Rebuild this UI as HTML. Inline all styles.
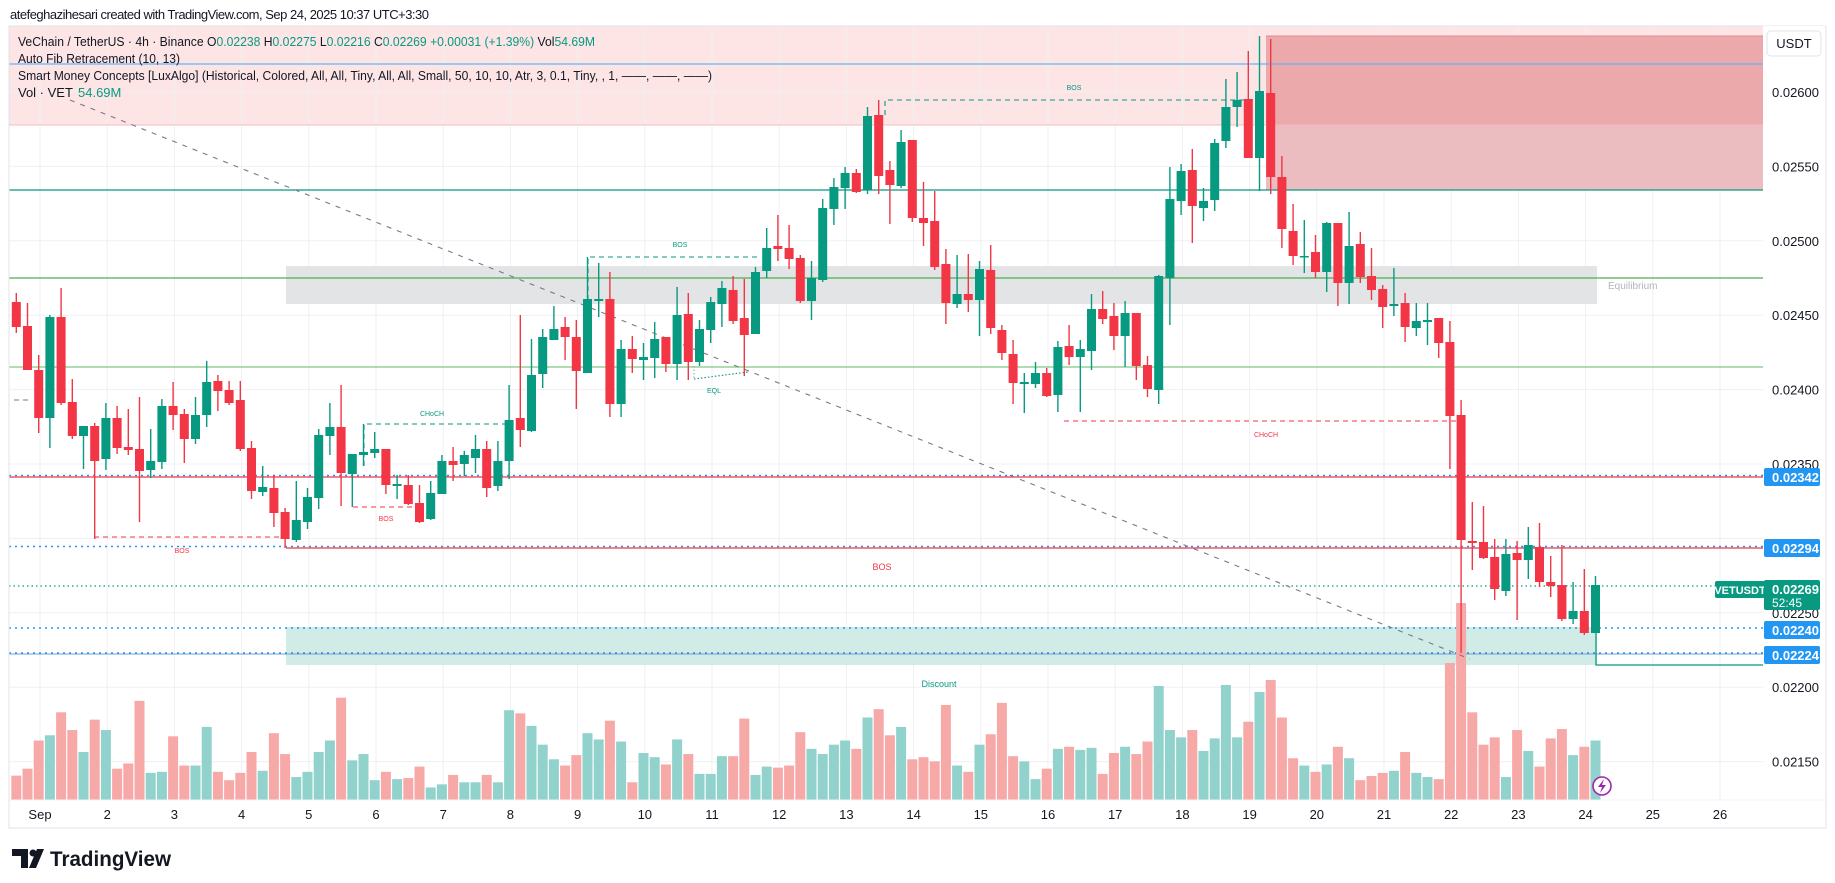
<!DOCTYPE html>
<html><head><meta charset="utf-8"><style>
html,body{margin:0;padding:0;background:#fff;width:1835px;height:883px;overflow:hidden}
svg{display:block}
text{font-family:"Liberation Sans",sans-serif}
</style></head><body>
<svg id="s" width="1835" height="883" viewBox="0 0 1835 883" xmlns="http://www.w3.org/2000/svg">
<rect x="0" y="0" width="1835" height="883" fill="#fff"/>
<text x="10" y="19" font-size="13" fill="#131722" textLength="419">atefeghazihesari created with TradingView.com, Sep 24, 2025 10:37 UTC+3:30</text>
<g id="bg"></g>
<g id="vol"></g>
<g id="ov"></g>
<g id="cd"></g>
<g id="lb"></g>
</svg>
<script>
const NS="http://www.w3.org/2000/svg";
function el(g,tag,attrs,txt){const e=document.createElementNS(NS,tag);for(const k in attrs)e.setAttribute(k,attrs[k]);if(txt!==undefined)e.textContent=txt;document.getElementById(g).appendChild(e);return e;}
const L=9,R=1763,T=26,B=800;
const py=p=>92+(0.026-p)*148800;
// backgrounds
el('bg','rect',{x:L,y:T,width:R-L,height:125-T,fill:'#fde4e5'});
// grid
for(let d=1;d<=26;d++){const x=1585.6-(24-d)*67.2;if(x>L&&x<R)el('bg','line',{x1:x,y1:T,x2:x,y2:B,stroke:'#eef0f4','stroke-width':1});}
[0.026,0.0255,0.025,0.0245,0.024,0.0235,0.023,0.0225,0.022,0.0215].forEach(p=>{const y=py(p);el('bg','line',{x1:L,y1:y,x2:R,y2:y,stroke:'#eef0f4','stroke-width':1});});
// order block
el('bg','rect',{x:1266,y:36,width:R-1266,height:89,fill:'#eba9ac'});
el('bg','rect',{x:1266,y:125,width:R-1266,height:65,fill:'#ebbdc0'});
el('bg','line',{x1:1266,y1:36,x2:R,y2:36,stroke:'#e08c90','stroke-width':1});
el('bg','line',{x1:L,y1:125,x2:R,y2:125,stroke:'#f2bcc0','stroke-width':1});
// equilibrium & discount boxes
el('bg','rect',{x:286,y:266,width:1597-286,height:38,fill:'#e3e4e6'});
el('bg','rect',{x:286,y:627,width:1597-286,height:38,fill:'#d1ebe6'});
// horizontal lines
el('bg','line',{x1:L,y1:64,x2:R,y2:64,stroke:'#64b5f6','stroke-width':1.3});
el('bg','line',{x1:L,y1:190,x2:R,y2:190,stroke:'#089981','stroke-width':1.3});
el('bg','line',{x1:L,y1:278,x2:R,y2:278,stroke:'#4caf50','stroke-width':1.3});
el('bg','line',{x1:L,y1:367,x2:R,y2:367,stroke:'#81c784','stroke-width':1.3});
el('bg','line',{x1:L,y1:477,x2:R,y2:477,stroke:'#f23645','stroke-width':1.3});
el('bg','line',{x1:L,y1:475.5,x2:R,y2:475.5,stroke:'#2196f3','stroke-width':1.6,'stroke-dasharray':'2 4'});
el('bg','line',{x1:286,y1:548,x2:R,y2:548,stroke:'#f23645','stroke-width':1.3});
el('bg','line',{x1:L,y1:546.5,x2:R,y2:546.5,stroke:'#2196f3','stroke-width':1.6,'stroke-dasharray':'2 4'});
el('bg','line',{x1:L,y1:586,x2:R,y2:586,stroke:'#089981','stroke-width':1.2,'stroke-dasharray':'1.5 3'});
el('bg','line',{x1:L,y1:628,x2:R,y2:628,stroke:'#2196f3','stroke-width':1.6,'stroke-dasharray':'2 4'});
el('bg','line',{x1:L,y1:654,x2:R,y2:654,stroke:'#7a9ec8','stroke-width':1});
el('bg','line',{x1:L,y1:653,x2:R,y2:653,stroke:'#2196f3','stroke-width':1.6,'stroke-dasharray':'2 4'});
// candles data [o,c,h,l] in px
const C=[[302,327,293,333],[326,370,303,370],[370,418,355,433],[418,317,315,448],[317,403,288,405],[402,436,379,439],[436,426,426,469],[426,461,423,539],[459,418,403,470],[418,448,406,454],[447,450,409,455],[449,471,397,522],[470,461,429,478],[462,406,399,469],[406,415,382,430],[414,439,409,463],[439,415,397,444],[415,382,361,427],[381,391,375,411],[390,403,381,405],[400,449,381,451],[448,491,441,499],[492,487,466,496],[488,513,475,527],[512,539,508,548],[540,520,481,542],[522,497,488,529],[498,435,429,509],[436,427,403,455],[427,473,385,506],[474,454,454,507],[455,452,424,466],[453,449,432,458],[449,485,449,494],[486,484,475,499],[485,504,475,505],[503,522,485,523],[519,493,481,520],[494,461,455,494],[461,465,447,481],[464,455,451,476],[458,449,435,473],[449,488,441,497],[486,461,441,491],[461,420,385,479],[418,430,315,447],[431,375,339,432],[374,337,329,388],[340,329,306,340],[327,337,317,360],[337,371,320,409],[373,299,257,373],[301,299,263,317],[299,404,272,417],[404,349,340,417],[349,359,336,373],[360,357,343,380],[358,339,322,378],[337,364,337,372],[364,315,287,380],[314,362,293,380],[362,329,320,366],[330,302,297,343],[304,288,281,327],[290,321,276,324],[318,335,279,376],[334,272,267,334],[271,248,228,278],[246,249,215,261],[248,259,225,269],[258,301,255,303],[301,278,261,320],[280,208,199,282],[209,187,178,225],[188,173,167,209],[173,192,169,193],[190,116,107,194],[115,176,100,194],[170,185,161,224],[186,142,130,188],[140,218,140,222],[218,223,182,246],[221,267,191,270],[264,303,249,324],[304,294,255,308],[294,300,254,312],[300,269,261,336],[270,328,245,334],[330,353,325,360],[354,383,340,404],[384,382,373,413],[384,373,362,388],[373,396,368,397],[395,347,341,412],[346,357,325,365],[357,349,340,412],[351,309,294,370],[309,319,291,324],[316,336,303,350],[336,313,301,367],[313,366,313,380],[365,389,356,397],[390,276,275,404],[278,199,167,325],[201,171,164,215],[170,206,149,243],[208,201,188,221],[200,143,139,211],[141,107,79,148],[107,100,72,127],[99,158,51,158],[158,91,36,191],[93,177,39,194],[177,229,156,248],[231,256,204,265],[257,256,220,273],[252,272,235,278],[272,223,222,292],[223,283,223,306],[283,246,212,304],[244,277,232,283],[276,290,248,300],[289,307,285,328],[306,304,268,316],[303,327,293,342],[328,321,303,336],[322,320,303,345],[318,343,318,358],[342,416,321,469],[415,540,400,653],[541,543,502,570],[542,558,506,559],[557,589,539,600],[591,554,539,596],[553,560,541,620],[560,545,527,579],[547,582,523,587],[582,586,556,597],[585,619,545,621],[619,611,582,624],[611,633,569,635],[633,585,576,633]];
const V=[245,225,144,129,63,114,177,84,114,225,210,30,237,234,132,216,216,105,234,258,237,177,231,123,183,249,234,177,144,21,201,183,258,234,255,252,219,279,270,243,264,264,243,264,57,66,102,156,198,216,186,123,141,87,147,264,180,192,213,141,183,240,240,189,189,81,243,219,222,216,120,168,
183,156,144,168,78,54,129,105,198,192,204,42,216,234,156,126,36,189,204,255,225,168,162,171,165,240,180,162,183,147,-686,114,135,114,174,138,-685,135,90,-692,-680,78,195,216,234,213,162,195,258,246,237,231,177,237,249,255,-663,-603,63,156,135,249,114,174,219,138,111,186,162,144];
const X=i=>16.3+11.2*i;
C.forEach((c,i)=>{
  const x=X(i),[o,cl,h,l]=c,up=cl<o,col=up?'#089981':'#f23645';
  let v=V[i],top=v<0?-v:800-(315-v)*0.348;
  el('vol','rect',{x:x-5,y:top,width:10,height:800-top,fill:up?'#92d2cc':'#f7a9a8'});
  el('cd','line',{x1:x,y1:h,x2:x,y2:l,stroke:col,'stroke-width':1.4});
  const t=Math.min(o,cl),hh=Math.max(1.5,Math.abs(o-cl));
  el('cd','rect',{x:x-4.5,y:t,width:9,height:hh,fill:col});
});
// overlays
el('ov','line',{x1:70,y1:100,x2:1470,y2:659,stroke:'#787b86','stroke-width':1.1,'stroke-dasharray':'5 6'});
// BOS red lower-left
el('ov','line',{x1:94,y1:537,x2:286,y2:537,stroke:'#f23645','stroke-width':1.1,'stroke-dasharray':'5 4'});
el('ov','text',{x:182,y:553,'font-size':7,fill:'#f23645','text-anchor':'middle'},'BOS');
el('ov','text',{x:882,y:570,'font-size':9,fill:'#f23645','text-anchor':'middle'},'BOS');
// CHoCH teal
el('ov','polyline',{points:'364,466 364,424 505,424',fill:'none',stroke:'#089981','stroke-width':1.1,'stroke-dasharray':'5 4'});
el('ov','text',{x:432,y:416,'font-size':7,fill:'#089981','text-anchor':'middle'},'CHoCH');
// BOS red small
el('ov','line',{x1:353,y1:507,x2:413,y2:507,stroke:'#f23645','stroke-width':1.1,'stroke-dasharray':'5 4'});
el('ov','text',{x:386,y:521,'font-size':7,fill:'#f23645','text-anchor':'middle'},'BOS');
// BOS teal mid
el('ov','polyline',{points:'588,300 588,257 760,257',fill:'none',stroke:'#089981','stroke-width':1.1,'stroke-dasharray':'5 4'});
el('ov','text',{x:680,y:247,'font-size':7,fill:'#089981','text-anchor':'middle'},'BOS');
// EQL
el('ov','polyline',{points:'694,379 748,372',fill:'none',stroke:'#089981','stroke-width':1.1,'stroke-dasharray':'1.5 2'});
el('ov','line',{x1:694,y1:366,x2:694,y2:379,stroke:'#9598a1','stroke-width':1,'stroke-dasharray':'1.5 2'});
el('ov','text',{x:714,y:393,'font-size':7,fill:'#089981','text-anchor':'middle'},'EQL');
// BOS teal top
el('ov','polyline',{points:'885,115 885,100 1259,100',fill:'none',stroke:'#089981','stroke-width':1.1,'stroke-dasharray':'5 4'});
el('ov','text',{x:1074,y:90,'font-size':7,fill:'#089981','text-anchor':'middle'},'BOS');
// CHoCH red
el('ov','line',{x1:1064,y1:421,x2:1459,y2:421,stroke:'#f23645','stroke-width':1.1,'stroke-dasharray':'5 4'});
el('ov','text',{x:1266,y:437,'font-size':7,fill:'#f23645','text-anchor':'middle'},'CHoCH');
// misc
el('ov','line',{x1:14,y1:400,x2:31,y2:400,stroke:'#787b86','stroke-width':1.1,'stroke-dasharray':'5 4'});
el('ov','polyline',{points:'1596,633 1596,665 1763,665',fill:'none',stroke:'#089981','stroke-width':1.3});
el('ov','text',{x:1608,y:289,'font-size':10,fill:'#b2b5be'},'Equilibrium');
el('ov','text',{x:939,y:687,'font-size':9,fill:'#089981','text-anchor':'middle'},'Discount');
// lightning icon
el('lb','circle',{cx:1602,cy:786,r:9,fill:'#fff',stroke:'#9c27b0','stroke-width':1.6});
el('lb','path',{d:'M1604 779 L1598 787 L1602 787 L1600 793 L1606 785 L1602 785 Z',fill:'#9c27b0'});
// frame
el('lb','rect',{x:9,y:26,width:1817,height:802,fill:'none',stroke:'#e0e3eb','stroke-width':1});
el('lb','rect',{x:R,y:26,width:63,height:774,fill:'#fff'});
el('lb','line',{x1:9,y1:800,x2:1826,y2:800,stroke:'#f0f3fa','stroke-width':1});
el('lb','line',{x1:1826,y1:26,x2:1826,y2:828,stroke:'#e0e3eb','stroke-width':1});
// legend
const lg=el('lb','text',{x:18,y:46,'font-size':13,fill:'#131722',textLength:577,lengthAdjust:'spacingAndGlyphs'});
[['VeChain / TetherUS · 4h · Binance  O','#131722'],['0.02238','#089981'],['  H','#131722'],['0.02275','#089981'],['  L','#131722'],['0.02216','#089981'],['  C','#131722'],['0.02269','#089981'],['  +0.00031 (+1.39%)','#089981'],['  Vol','#131722'],['54.69M','#089981']].forEach(([t,c])=>{const s=document.createElementNS(NS,'tspan');s.setAttribute('fill',c);s.setAttribute('xml:space','preserve');s.textContent=t;lg.appendChild(s);});
lg.setAttribute('xml:space','preserve');
el('lb','text',{x:18,y:63,'font-size':13,fill:'#131722',textLength:162,lengthAdjust:'spacingAndGlyphs'},'Auto Fib Retracement (10, 13)');
el('lb','text',{x:18,y:80,'font-size':13,fill:'#131722',textLength:694,lengthAdjust:'spacingAndGlyphs'},'Smart Money Concepts [LuxAlgo] (Historical, Colored, All, All, Tiny, All, All, Small, 50, 10, 10, Atr, 3, 0.1, Tiny, , 1, ——, ——, ——)');
el('lb','text',{x:18,y:97,'font-size':13,fill:'#131722'},'Vol · VET');
el('lb','text',{x:78,y:97,'font-size':13,fill:'#089981'},'54.69M');
// price axis
[[0.026,'0.02600'],[0.0255,'0.02550'],[0.025,'0.02500'],[0.0245,'0.02450'],[0.024,'0.02400'],[0.0235,'0.02350'],[0.0225,'0.02250'],[0.022,'0.02200'],[0.0215,'0.02150']].forEach(([p,t])=>{el('lb','text',{x:1772,y:py(p)+5,'font-size':13,fill:'#131722'},t);});
el('lb','rect',{x:1767,y:31,width:54,height:25,rx:4,fill:'#fff',stroke:'#e0e3eb'});
el('lb','text',{x:1794,y:48,'font-size':13,fill:'#131722','text-anchor':'middle'},'USDT');
function tag(y,t){el('lb','rect',{x:1764,y:y-9,width:56,height:18,rx:2,fill:'#2196f3'});el('lb','text',{x:1772,y:y+5,'font-size':13,'font-weight':'bold',fill:'#fff'},t);}
tag(477,'0.02342');tag(548,'0.02294');tag(630,'0.02240');tag(655,'0.02224');
el('lb','rect',{x:1715,y:581,width:50,height:17,rx:2,fill:'#089981'});
el('lb','text',{x:1740,y:594,'font-size':11,'font-weight':'bold',fill:'#fff','text-anchor':'middle'},'VETUSDT');
el('lb','rect',{x:1764,y:580,width:56,height:30,rx:2,fill:'#089981'});
el('lb','text',{x:1772,y:594,'font-size':13,'font-weight':'bold',fill:'#fff'},'0.02269');
el('lb','text',{x:1772,y:607,'font-size':12,fill:'#fff'},'52:45');
// time axis
for(let d=1;d<=26;d++){const x=1585.6-(24-d)*67.2;el('lb','text',{x:x,y:819,'font-size':13,fill:'#131722','text-anchor':'middle'},d===1?'Sep':String(d));}
// logo
el('lb','path',{d:'M12 849 H28 V868 H21 V856 H12 Z',fill:'#131722'});
el('lb','circle',{cx:33,cy:853,r:3.5,fill:'#131722'});
el('lb','path',{d:'M37 849 H44 L36 868 H29 Z',fill:'#131722'});
el('lb','text',{x:50,y:866,'font-size':21,'font-weight':'bold',fill:'#131722',textLength:121,lengthAdjust:'spacingAndGlyphs'},'TradingView');
</script>
</body></html>
